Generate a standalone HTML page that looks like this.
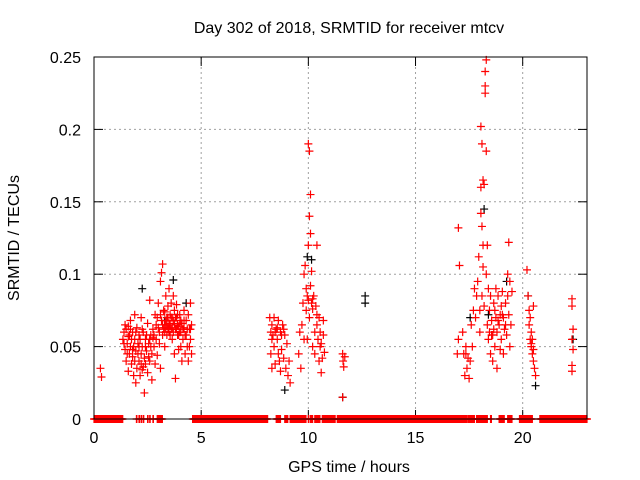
<!DOCTYPE html>
<html><head><meta charset="utf-8"><style>
html,body{margin:0;padding:0;background:#fff;width:640px;height:480px;overflow:hidden}
svg text{font-family:"Liberation Sans",sans-serif;font-size:16px;fill:#000}
</style></head><body>
<svg id="chart" width="640" height="480" xmlns="http://www.w3.org/2000/svg">
<rect width="640" height="480" fill="#fff"/>
<g id="grid"></g>
<g id="ticks"></g>
<g id="marks"></g>
<rect x="94" y="57" width="493" height="362" fill="none" stroke="#000" stroke-width="1"/>
<text x="349" y="33" text-anchor="middle">Day 302 of 2018, SRMTID for receiver mtcv</text>
<text x="349" y="472" text-anchor="middle">GPS time / hours</text>
<text transform="translate(19,238) rotate(-90)" text-anchor="middle">SRMTID / TECUs</text>
</svg>
<script>
const xTicks=[0,5,10,15,20];
const yTicks=[0,0.05,0.1,0.15,0.2,0.25];
const yTickLabels=["0","0.05","0.1","0.15","0.2","0.25"];
const zeroRuns=[[0,1.35],[1.98,2.0],[2.1,2.12],[2.2,2.22],[2.3,2.32],[2.5,2.52],[2.6,2.62],[2.75,2.78],[2.95,3.2],[4.6,8.1],[8.5,8.7],[8.9,9.05],[9.15,9.9],[10.0,10.03],[10.1,10.2],[10.3,10.55],[10.65,11.25],[11.35,17.4],[17.45,17.75],[17.85,18.35],[18.5,18.55],[18.9,19.15],[19.3,19.5],[19.85,20.45],[20.8,22.5],[22.5,23]];
const redPts=[[0.3,0.035],[0.35,0.029],
[1.35,0.055],[1.4,0.06],[1.45,0.048],[1.5,0.062],[1.5,0.04],[1.55,0.052],[1.6,0.057],[1.6,0.033],[1.65,0.045],[1.7,0.068],[1.7,0.05],[1.75,0.038],[1.8,0.06],[1.8,0.043],[1.85,0.03],[1.9,0.072],[1.9,0.055],[1.95,0.047],[1.95,0.025],[2.0,0.035],[2.0,0.063],[2.05,0.052],[2.1,0.04],[2.1,0.058],[2.15,0.03],[2.2,0.045],[2.2,0.07],[2.25,0.05],[2.3,0.036],[2.3,0.06],[2.35,0.042],[2.35,0.018],[2.4,0.055],[2.45,0.047],[2.5,0.032],[2.5,0.066],[2.55,0.052],[2.6,0.04],[2.6,0.082],[2.65,0.058],[2.7,0.045],[2.7,0.027],[2.75,0.062],[2.8,0.05],[2.85,0.072],[2.85,0.038],[2.9,0.055],[2.95,0.044],[3.0,0.063],[3.0,0.08],[3.05,0.052],[3.1,0.095],[3.1,0.035],[3.15,0.101],[3.15,0.068],[3.2,0.107],[3.2,0.058],[3.25,0.075],[3.3,0.065],[3.3,0.05],[3.35,0.085],[3.4,0.07],[3.4,0.058],[3.45,0.078],[3.5,0.066],[3.5,0.09],[3.55,0.072],[3.6,0.062],[3.6,0.08],[3.65,0.055],[3.7,0.068],[3.7,0.085],[3.75,0.075],[3.75,0.045],[3.8,0.062],[3.8,0.028],[3.85,0.07],[3.85,0.079],[3.9,0.058],[3.9,0.065],[3.95,0.048],[4.0,0.072],[4.0,0.06],[4.05,0.05],[4.1,0.066],[4.1,0.04],[4.15,0.055],[4.2,0.063],[4.2,0.075],[4.25,0.045],[4.3,0.068],[4.3,0.058],[4.35,0.05],[4.4,0.072],[4.4,0.04],[4.45,0.062],[4.5,0.055],[4.5,0.08],[4.55,0.045],[4.55,0.065],[3.55,0.058],[3.45,0.062],[3.65,0.07],[2.75,0.056],[2.25,0.034],[1.85,0.05],[1.65,0.058],[4.05,0.068],[3.95,0.064],[3.35,0.063],
[1.4,0.052],[1.45,0.065],[1.55,0.045],[1.6,0.064],[1.75,0.055],[1.8,0.048],[1.9,0.04],[1.95,0.06],[2.05,0.045],[2.15,0.055],[2.2,0.038],[2.25,0.062],[2.4,0.05],[2.4,0.038],[2.45,0.058],[2.55,0.043],[2.65,0.05],[2.8,0.058],[2.9,0.065],[2.95,0.07],[3.05,0.06],[3.1,0.072],[3.2,0.065],[3.25,0.062],[3.3,0.074],[3.35,0.068],[3.4,0.065],[3.45,0.07],[3.5,0.06],[3.55,0.065],[3.6,0.07],[3.65,0.063],[3.7,0.06],[3.75,0.066],[3.8,0.07],[3.85,0.062],[3.9,0.072],[3.95,0.058],[4.0,0.066],[4.05,0.06],[4.15,0.062],[4.2,0.068],[4.25,0.058],[4.35,0.062],[4.45,0.05],[4.5,0.062],[1.7,0.062],[2.1,0.05],[2.6,0.055],[3.3,0.06],
[8.2,0.07],[8.25,0.06],[8.25,0.045],[8.3,0.065],[8.3,0.035],[8.35,0.058],[8.4,0.05],[8.4,0.07],[8.45,0.038],[8.5,0.062],[8.55,0.055],[8.6,0.068],[8.6,0.045],[8.65,0.04],[8.7,0.06],[8.7,0.033],[8.75,0.048],[8.8,0.065],[8.85,0.042],[8.9,0.058],[8.95,0.035],[9.0,0.052],[9.05,0.03],[9.1,0.04],[9.15,0.025],[8.3,0.055],[8.45,0.06],[8.55,0.063],[8.75,0.058],[8.85,0.062],
[9.7,0.065],[9.75,0.08],[9.8,0.1],[9.8,0.055],[9.85,0.106],[9.9,0.09],[9.9,0.075],[9.95,0.085],[9.95,0.055],[10.0,0.19],[10.0,0.12],[10.05,0.185],[10.05,0.14],[10.05,0.07],[10.1,0.155],[10.1,0.128],[10.1,0.092],[10.15,0.102],[10.15,0.08],[10.2,0.076],[10.2,0.05],[10.25,0.085],[10.3,0.06],[10.3,0.045],[10.35,0.078],[10.4,0.12],[10.4,0.072],[10.45,0.055],[10.5,0.07],[10.5,0.04],[10.55,0.06],[10.6,0.052],[10.6,0.032],[10.65,0.042],[10.7,0.058],[10.7,0.068],[10.75,0.046],[9.55,0.045],[9.6,0.06],[9.65,0.035],[10.0,0.082],[10.2,0.083],[10.4,0.065],[10.55,0.05],
[11.6,0.045],[11.62,0.04],[11.65,0.036],[11.7,0.043],[11.6,0.015],
[17.0,0.132],[17.05,0.106],[17.0,0.055],[16.95,0.045],[17.2,0.06],[17.25,0.045],[17.3,0.03],[17.35,0.05],[17.4,0.035],[17.5,0.028],[17.55,0.04],[17.6,0.065],[17.7,0.075],[17.75,0.09],[17.8,0.07],[17.85,0.085],[17.9,0.095],[17.95,0.112],[18.0,0.075],[18.0,0.06],[18.05,0.142],[18.05,0.16],[18.05,0.202],[18.1,0.19],[18.1,0.133],[18.1,0.085],[18.15,0.165],[18.15,0.12],[18.15,0.105],[18.2,0.162],[18.2,0.078],[18.25,0.225],[18.25,0.23],[18.25,0.24],[18.3,0.248],[18.3,0.185],[18.3,0.1],[18.35,0.12],[18.35,0.065],[18.4,0.09],[18.4,0.055],[18.45,0.075],[18.5,0.085],[18.5,0.045],[18.55,0.068],[18.6,0.058],[18.6,0.04],[18.65,0.08],[18.7,0.05],[18.75,0.07],[18.8,0.06],[18.8,0.035],[18.85,0.085],[18.9,0.065],[18.95,0.048],[19.0,0.078],[19.0,0.055],[19.05,0.088],[19.1,0.07],[19.1,0.045],[19.15,0.062],[19.2,0.08],[19.25,0.058],[19.3,0.1],[19.3,0.085],[19.35,0.122],[19.35,0.072],[19.4,0.095],[19.4,0.05],[19.45,0.065],[19.5,0.088],[18.95,0.072],[18.75,0.09],[18.45,0.06],[17.65,0.05],[18.7,0.075],[18.85,0.068],[19.05,0.072],[19.2,0.065],[18.55,0.058],[18.65,0.062],[17.35,0.045],[17.45,0.042],
[20.2,0.103],[20.25,0.085],[20.3,0.065],[20.3,0.075],[20.35,0.055],[20.4,0.05],[20.4,0.06],[20.45,0.045],[20.5,0.04],[20.55,0.035],[20.6,0.03],[20.5,0.078],[20.45,0.055],[20.35,0.07],[20.4,0.052],[20.5,0.048],
[22.3,0.083],[22.3,0.078],[22.35,0.062],[22.3,0.055],[22.35,0.048],[22.3,0.037],[22.3,0.033]];
const blackPts=[[2.25,0.09],[3.3,0.068],[3.7,0.096],[4.3,0.08],[8.9,0.02],[9.95,0.112],[10.15,0.11],[12.65,0.085],[12.65,0.08],[11.6,0.015],[17.55,0.07],[18.2,0.145],[18.4,0.072],[20.25,0.085],[20.6,0.023],[22.35,0.055],[19.25,0.095]];
const X=v=>94+v*(493/23);
const Y=v=>419-v*(362/0.25);
const NS="http://www.w3.org/2000/svg";
function mk(tag,attrs,parent){const e=document.createElementNS(NS,tag);for(const k in attrs)e.setAttribute(k,attrs[k]);parent.appendChild(e);return e;}
const grid=document.getElementById('grid'),ticks=document.getElementById('ticks'),marks=document.getElementById('marks');
xTicks.forEach(t=>{const x=X(t);
 if(t>0){const g=mk('line',{x1:x,x2:x,y1:57,y2:419,stroke:'#a0a0a0','stroke-dasharray':'2,3'},grid);
 
 }
 mk('line',{x1:x,x2:x,y1:419,y2:410,stroke:'#000'},ticks);
 mk('line',{x1:x,x2:x,y1:57,y2:66,stroke:'#000'},ticks);
 const l=mk('text',{x:x,y:443,'text-anchor':'middle'},ticks);l.textContent=String(t);
 
 
});
yTicks.forEach((t,i)=>{const y=Y(t);
 if(t>0&&t<0.25){const g=mk('line',{x1:94,x2:587,y1:y,y2:y,stroke:'#a0a0a0','stroke-dasharray':'2,3'},grid);
 
 }
 mk('line',{x1:94,x2:103,y1:y,y2:y,stroke:'#000'},ticks);
 mk('line',{x1:578,x2:587,y1:y,y2:y,stroke:'#000'},ticks);
 const l=mk('text',{x:81,y:y+6,'text-anchor':'end'},ticks);l.textContent=yTickLabels[i];
 
 
});
function plus(x,y,c,name){const p=mk('path',{d:`M${x-4},${y}h8M${x},${y-4}v8`,stroke:c,'stroke-width':1.2,fill:'none'},marks);
 
 }
blackPts.forEach(p=>plus(X(p[0]),Y(p[1]),'#000','black-point'));
redPts.forEach(p=>plus(X(p[0]),Y(p[1]),'#ff0000','red-point'));
zeroRuns.forEach(r=>{for(let h=r[0];h<=r[1]+1e-9;h+=0.02){plus(X(h),Y(0),'#ff0000','zero-point');}});
</script>
</body></html>
